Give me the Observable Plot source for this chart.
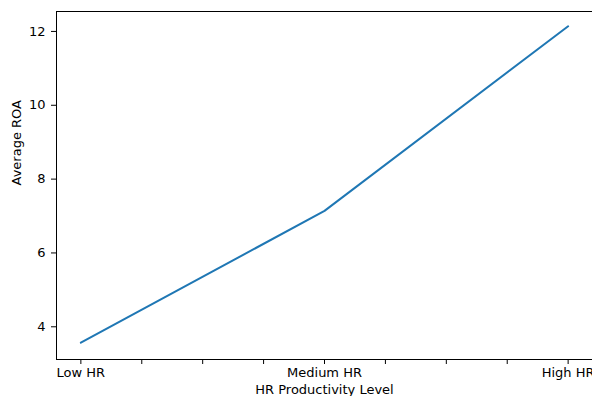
<!DOCTYPE html>
<html>
<head>
<meta charset="utf-8">
<script src="https://cdn.jsdelivr.net/npm/d3@7"></script>
<script src="https://cdn.jsdelivr.net/npm/@observablehq/plot@0.6"></script>
<style>
  html, body { margin: 0; padding: 0; background: #fff; }
  svg { overflow: visible; }
</style>
</head>
<body>
<div id="chart"></div>
<script>
const categories = ["Low HR", "Medium HR", "High HR"];
const roa = [3.57, 7.14, 12.14];
const yTicks = [4, 6, 8, 10, 12];
const xLabel = "HR Productivity Level";
const yLabel = "Average ROA";

const data = categories.map((c, i) => ({i, c, v: roa[i]}));
const xTicks = d3.range(0, 2.001, 0.25);

const chart = Plot.plot({
  width: 592,
  height: 396,
  marginLeft: 56,
  marginRight: 0,
  marginTop: 11,
  marginBottom: 37,
  style: {fontFamily: "DejaVu Sans", fontSize: "13px", color: "#000", background: "#fff"},
  x: {domain: [-0.1, 2.1]},
  y: {domain: [3.114, 12.54]},
  marks: [
    Plot.frame({stroke: "#000", strokeWidth: 1}),
    Plot.axisX({ticks: xTicks, tickSize: 5, tickPadding: 3, tickFormat: d => Number.isInteger(d) ? categories[d] : "", label: null, fontSize: 13}),
    Plot.axisY({ticks: yTicks, tickSize: 5, tickPadding: 6, label: null, fontSize: 13}),
    Plot.line(data, {x: "i", y: "v", stroke: "#1f77b4", strokeWidth: 2}),
    Plot.text([xLabel], {text: d => d, frameAnchor: "bottom", dy: 34, fontSize: 13}),
    Plot.text([yLabel], {text: d => d, frameAnchor: "left", dx: -40, rotate: -90, fontSize: 13})
  ]
});
document.getElementById("chart").appendChild(chart);
</script>
</body>
</html>
